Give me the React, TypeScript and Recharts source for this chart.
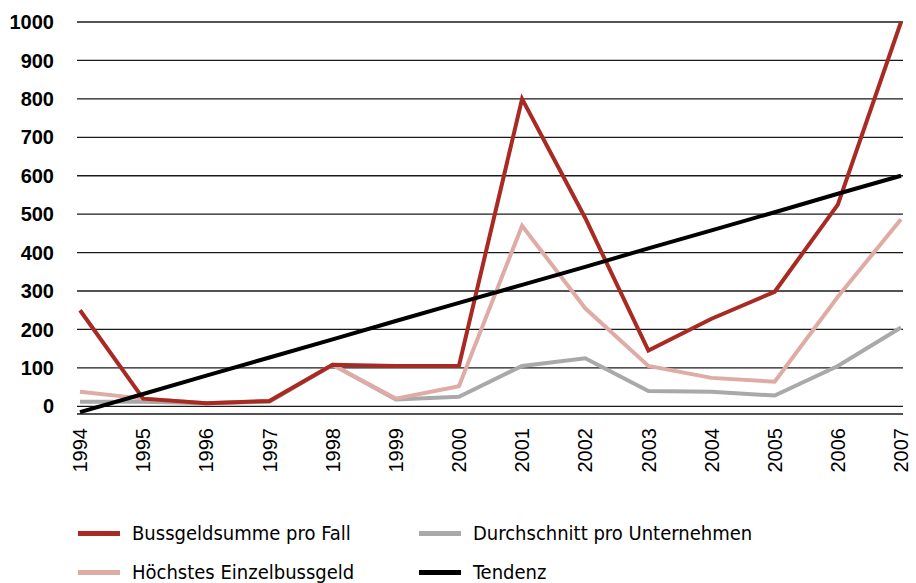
import React from "react";
import { LineChart, Line, XAxis, YAxis, CartesianGrid, Legend } from "recharts";

const YEARS = ["1994", "1995", "1996", "1997", "1998", "1999", "2000", "2001", "2002", "2003", "2004", "2005", "2006", "2007"];
const SUMME_PRO_FALL = [250, 20, 8, 14, 108, 105, 105, 800, 490, 145, 228, 298, 525, 1000];
const HOECHSTES = [38, 20, 8, 14, 108, 20, 52, 470, 255, 105, 74, 64, 285, 487];
const DURCHSCHNITT = [12, 12, 8, 12, 108, 18, 25, 105, 125, 40, 38, 28, 105, 205];
const TENDENZ = [-15, 32, 80, 127, 174, 222, 269, 316, 363, 411, 458, 505, 553, 600];
const Y_TICKS = [0, 100, 200, 300, 400, 500, 600, 700, 800, 900, 1000];

const SERIES = [
  { key: "summe", name: "Bussgeldsumme pro Fall", color: "#a82a22" },
  { key: "schnitt", name: "Durchschnitt pro Unternehmen", color: "#a9a9a9" },
  { key: "hoechst", name: "Höchstes Einzelbussgeld", color: "#dfaca5" },
  { key: "tendenz", name: "Tendenz", color: "#000000" },
];

const data = YEARS.map((y, i) => ({
  year: y,
  summe: SUMME_PRO_FALL[i],
  hoechst: HOECHSTES[i],
  schnitt: DURCHSCHNITT[i],
  tendenz: TENDENZ[i],
}));

const FONT = "'Liberation Sans', Arial, sans-serif";
const LEGEND_FONT = "'Liberation Sans Narrow', 'DejaVu Sans Condensed', 'Liberation Sans', sans-serif";

const YearTick = (props: any) => {
  const { x, y, payload } = props;
  return (
    <text
      x={x}
      y={y}
      transform={`rotate(-90, ${x}, ${y})`}
      textAnchor="end"
      dy="0.36em"
      fontFamily={FONT}
      fontSize={20}
      fill="#000"
    >
      {payload.value}
    </text>
  );
};

const LegendBox = () => {
  const pos = [
    { left: 78, top: 13 },
    { left: 419, top: 13 },
    { left: 78, top: 52 },
    { left: 419, top: 52 },
  ];
  return (
    <div style={{ position: "relative", width: 916, height: 63 }}>
      {SERIES.map((s, i) => (
        <div
          key={s.key}
          style={{ position: "absolute", left: pos[i].left, top: pos[i].top - 12, height: 24, display: "flex", alignItems: "center" }}
        >
          <div style={{ width: 42, height: 5, background: s.color, marginRight: 12 }} />
          <span style={{ fontFamily: LEGEND_FONT, fontSize: 20, color: "#000", whiteSpace: "nowrap" }}>{s.name}</span>
        </div>
      ))}
    </div>
  );
};

export default function App() {
  return (
    <div style={{ width: 916, height: 583, position: "relative", background: "#fff" }}>
      <style>{`body{margin:0}`}</style>
      <LineChart width={916} height={583} data={data} margin={{ top: 22, right: 13, left: 0, bottom: 0 }}>
        <CartesianGrid vertical={false} stroke="#1a1a1a" strokeWidth={1.3} />
        <XAxis
          dataKey="year"
          axisLine={false}
          tickLine={false}
          tickSize={0}
          tickMargin={14}
          interval={0}
          height={106}
          padding={{ left: 3, right: 2 }}
          tick={<YearTick />}
        />
        <YAxis
          domain={[-20, 1000]}
          ticks={Y_TICKS}
          axisLine={false}
          tickLine={false}
          tickSize={0}
          tickMargin={23}
          width={77}
          interval={0}
          tick={{ fill: "#000", fontSize: 20, fontWeight: 700, fontFamily: FONT }}
        />
        <Legend verticalAlign="bottom" wrapperStyle={{ left: 0, width: 916 }} content={() => <LegendBox />} />
        <Line dataKey="schnitt" stroke="#a9a9a9" strokeWidth={4} dot={false} isAnimationActive={false} />
        <Line dataKey="hoechst" stroke="#dfaca5" strokeWidth={4} dot={false} isAnimationActive={false} />
        <Line dataKey="summe" stroke="#a82a22" strokeWidth={4} dot={false} isAnimationActive={false} />
        <Line dataKey="tendenz" stroke="#000000" strokeWidth={4} dot={false} isAnimationActive={false} />
      </LineChart>
    </div>
  );
}
